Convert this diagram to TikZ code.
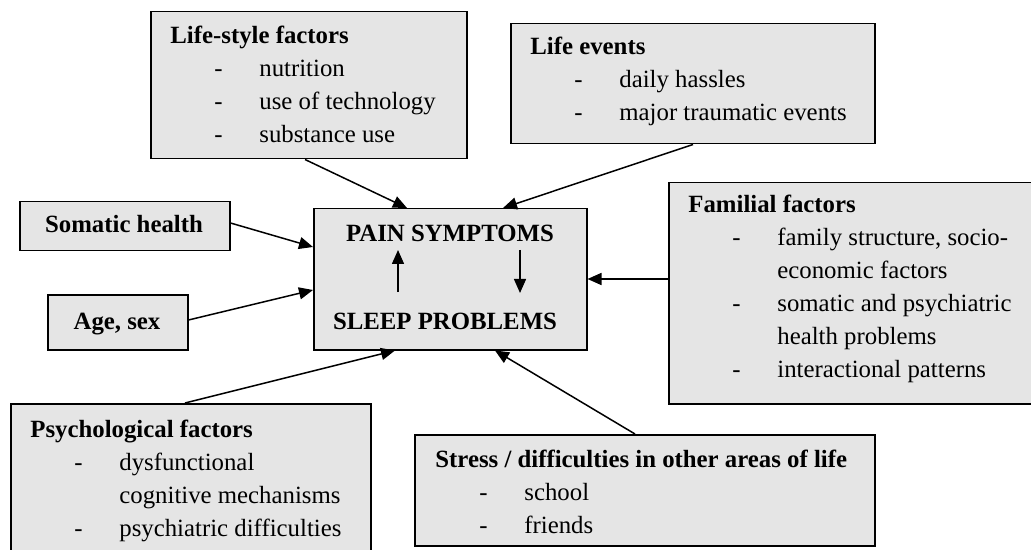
\documentclass[tikz,border=0pt]{standalone}
\usepackage{fontspec}
\setmainfont{Liberation Serif}
\usetikzlibrary{arrows.meta,calc}
\newcommand\itm[1]{\hspace*{22pt}\makebox[22.5pt][l]{-}#1}
\newcommand\cont[1]{\hspace*{44.5pt}#1}
\newcommand\blocktext[1]{\parbox[t]{300pt}{\fontsize{12.4}{16.5}\selectfont #1}}
\begin{document}
\begin{tikzpicture}[x=0.5pt,y=-0.5pt,
  box/.style={draw, line width=0.75pt, fill=black!10, inner sep=0pt, anchor=north west},
  txt/.style={inner sep=0pt, anchor=base west},
  lbl/.style={inner sep=0pt, anchor=base, font=\fontsize{12.4}{16.5}\selectfont\bfseries},
  arr/.style={line width=0.75pt, -{Triangle[length=7pt,width=6pt]}}]
\useasboundingbox (0,0) rectangle (1031,550);
\clip (0,0) rectangle (1031,550);
\fill[white] (0,0) rectangle (1031,550);
% boxes
\node[box, minimum width=158pt, minimum height=73.5pt] (ls) at (150,11) {};
\node[box, minimum width=182pt, minimum height=60pt] (le) at (510,23) {};
\node[box, minimum width=105pt, minimum height=24.5pt] (sh) at (19,201) {};
\node[box, minimum width=136.5pt, minimum height=70.5pt] (ctr) at (313,208) {};
\node[box, minimum width=70pt, minimum height=27.5pt] (age) at (47,294) {};
\node[box, minimum width=188.5pt, minimum height=110.5pt] (fam) at (668,182) {};
\node[box, minimum width=180pt, minimum height=81pt] (psy) at (10,403) {};
\node[box, minimum width=230pt, minimum height=55.5pt] (st) at (414,434) {};
% texts
\node[txt] (lst) at ($(ls.north west)+(20,33)$) {\blocktext{\textbf{Life-style factors}\\\itm{nutrition}\\\itm{use of technology}\\\itm{substance use}}};
\node[txt] (let) at ($(le.north west)+(20,32)$) {\blocktext{\textbf{Life events}\\\itm{daily hassles}\\\itm{major traumatic events}}};
\node[txt] (famt) at ($(fam.north west)+(20,31)$) {\blocktext{\textbf{Familial factors}\\\itm{family structure, socio-}\\\cont{economic factors}\\\itm{somatic and psychiatric}\\\cont{health problems}\\\itm{interactional patterns}}};
\node[txt] (psyt) at ($(psy.north west)+(20,34)$) {\blocktext{\textbf{Psychological factors}\\\itm{dysfunctional}\\\cont{cognitive mechanisms}\\\itm{psychiatric difficulties}}};
\node[txt] (stt) at ($(st.north west)+(21,33)$) {\blocktext{\textbf{Stress / difficulties in other areas of life}\\\itm{school}\\\itm{friends}}};
\node[lbl] (sht) at (124,233) {Somatic health};
\node[lbl] (aget) at (117,329) {Age, sex};
\node[lbl] (pain) at (450,242) {PAIN SYMPTOMS};
\node[lbl] (sleep) at (445,329) {SLEEP PROBLEMS};
% inner arrows
\coordinate (u1) at (398,292);
\coordinate (u2) at (398,250);
\coordinate (d1) at (520,250);
\coordinate (d2) at (520,293);
\draw[arr] (u1) -- (u2);
\draw[arr] (d1) -- (d2);
% connectors
\draw[arr] ($(ls.south west)+(155,0)$) -- ($(ctr.north west)+(94,0)$);
\draw[arr] ($(le.south west)+(183,0)$) -- ($(ctr.north west)+(190,0)$);
\draw[arr] ($(sh.north east)+(0,22)$) -- ($(ctr.north west)+(0,39)$);
\draw[arr] ($(age.north east)+(0,26)$) -- ($(ctr.north west)+(0,82)$);
\draw[arr] ($(psy.north west)+(175,0)$) -- ($(ctr.south west)+(82,0)$);
\draw[arr] ($(st.north west)+(221,0)$) -- ($(ctr.south west)+(182,0)$);
\draw[arr] ($(fam.north west)+(0,97)$) -- ($(ctr.north east)+(0,71)$);
\end{tikzpicture}
\end{document}
